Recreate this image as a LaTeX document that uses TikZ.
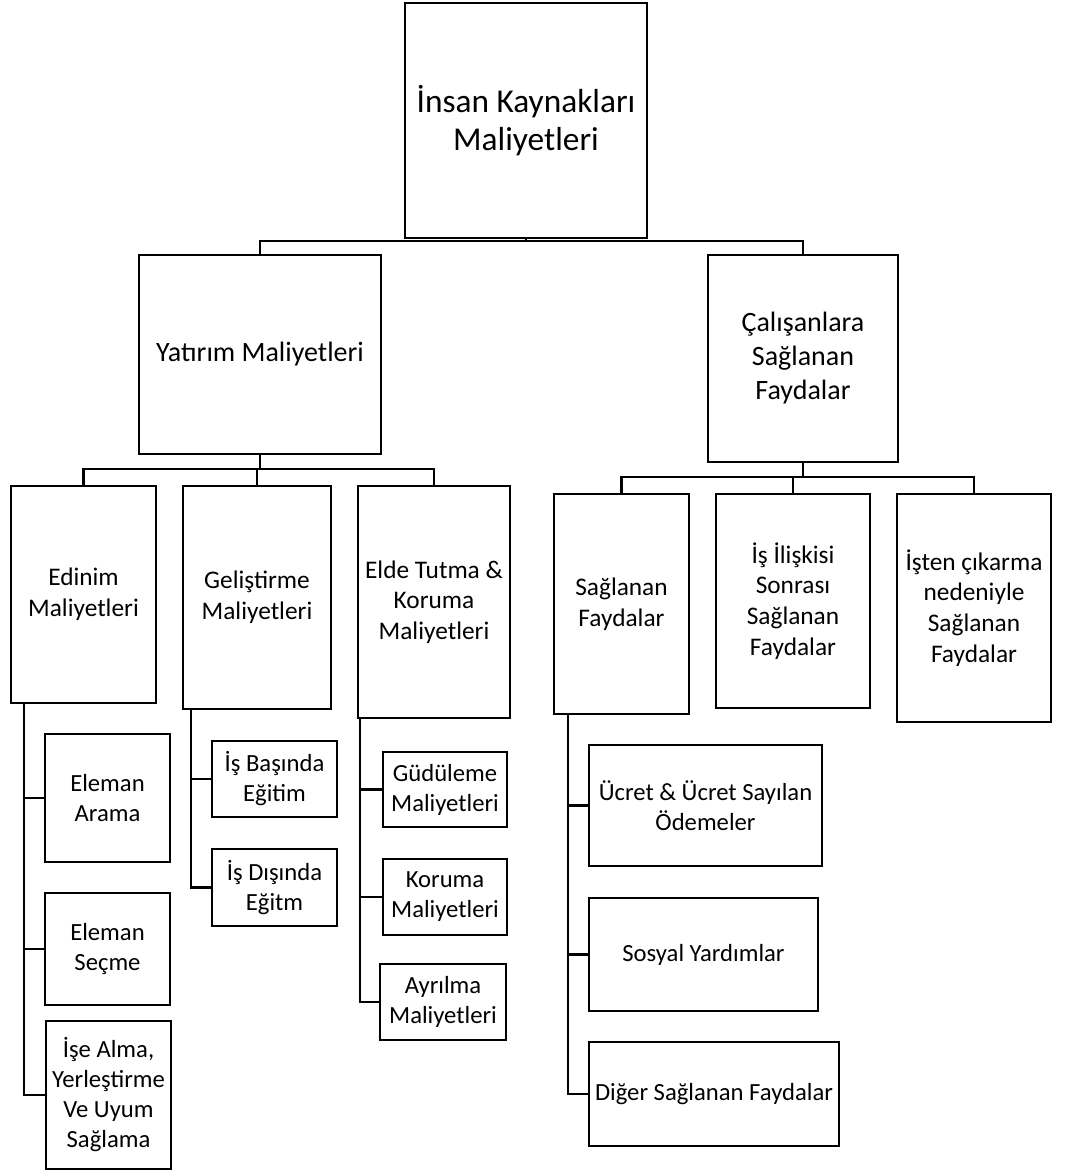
\documentclass[tikz,border=0pt]{standalone}
\usepackage{fontspec}
\setmainfont{Carlito}
\begin{document}
\begin{tikzpicture}[x=0.75pt,y=-0.75pt,
  box/.style={draw=black,line width=2pt,rectangle,align=center,inner sep=2pt},
  wh/.style 2 args={minimum width=#1*0.75pt,minimum height=#2*0.75pt},
  lvlA/.style={font=\fontsize{25}{29}\selectfont},
  lvlB/.style={font=\fontsize{21}{25.5}\selectfont},
  lvlC/.style={font=\fontsize{19}{23}\selectfont},
  leaf/.style={font=\fontsize{18.5}{22.5}\selectfont},
  link/.style={draw=black,line width=1.6pt}]
\useasboundingbox (0,0) rectangle (1067,1171);
\fill[white] (0,0) rectangle (1067,1171);

% root
\node[box,lvlA,wh={242}{235}] (top) at (526,120.5) {İnsan Kaynakları\\Maliyetleri};

% second level
\node[box,lvlB,wh={242}{199}] (yat) at (260,354.5) {Yatırım Maliyetleri};
\node[box,lvlB,wh={190}{207}] (cal) at (803,358.5) {Çalışanlara\\Sağlanan\\Faydalar};

% third level
\node[box,lvlC,wh={145}{217}] (edi) at (83.5,594.5) {Edinim\\Maliyetleri};
\node[box,lvlC,wh={148}{223}] (gel) at (257,597.5) {Geliştirme\\Maliyetleri};
\node[box,lvlC,wh={152}{232}] (eld) at (434,602) {Elde Tutma \&\\Koruma\\Maliyetleri};
\node[box,lvlC,wh={135}{220}] (sag) at (621.5,604) {Sağlanan\\Faydalar};
\node[box,lvlC,wh={154}{214}] (isi) at (793,601) {İş İlişkisi\\Sonrası\\Sağlanan\\Faydalar};
\node[box,lvlC,wh={154}{228}] (ist) at (974,608) {İşten çıkarma\\nedeniyle\\Sağlanan\\Faydalar};

% leaves
\node[box,leaf,wh={125}{128}] (ea) at (107.5,798) {Eleman\\Arama};
\node[box,leaf,wh={125}{112}] (es) at (107.5,949) {Eleman\\Seçme};
\node[box,leaf,wh={125}{148}] (ia) at (108.5,1095) {İşe Alma,\\Yerleştirme\\Ve Uyum\\Sağlama};
\node[box,leaf,wh={125}{76}] (ib) at (274.5,779) {İş Başında\\Eğitim};
\node[box,leaf,wh={125}{77}] (id) at (274.5,887.5) {İş Dışında\\Eğitm};
\node[box,leaf,wh={124}{75}] (gu) at (445,789.5) {Güdüleme\\Maliyetleri};
\node[box,leaf,wh={124}{76}] (ko) at (445,897) {Koruma\\Maliyetleri};
\node[box,leaf,wh={126}{76}] (ay) at (443,1002) {Ayrılma\\Maliyetleri};
\node[box,leaf,wh={233}{121}] (uc) at (705.5,805.5) {Ücret \& Ücret Sayılan\\Ödemeler};
\node[box,leaf,wh={229}{113}] (so) at (703.5,954.5) {Sosyal Yardımlar};
\node[box,leaf,wh={250}{104}] (di) at (714,1094) {Diğer Sağlanan Faydalar};

% branching points
\coordinate (b0) at (526,241);
\coordinate (b1) at (260,469);
\coordinate (b2) at (803,477);
\coordinate (r1) at (24,703);
\coordinate (r2) at (191,709);
\coordinate (r3) at (360,718);
\coordinate (r4) at (568,714);

% upper tree
\draw[link] (top.south) -- (b0);
\draw[link] (yat.north) |- (b0) -| (cal.north);
\draw[link] (yat.south) -- (b1);
\draw[link] (edi.north) |- (b1) -| (eld.north);
\draw[link] (gel.north) -- (gel.north |- b1);
\draw[link] (cal.south) -- (b2);
\draw[link] (sag.north) |- (b2) -| (ist.north);
\draw[link] (isi.north) -- (isi.north |- b2);

% side rails to the leaves
\draw[link] (r1) |- (ia.west);
\draw[link] (ea.west) -- (ea.west -| r1);
\draw[link] (es.west) -- (es.west -| r1);
\draw[link] (r2) |- (id.west);
\draw[link] (ib.west) -- (ib.west -| r2);
\draw[link] (r3) |- (ay.west);
\draw[link] (gu.west) -- (gu.west -| r3);
\draw[link] (ko.west) -- (ko.west -| r3);
\draw[link] (r4) |- (di.west);
\draw[link] (uc.west) -- (uc.west -| r4);
\draw[link] (so.west) -- (so.west -| r4);
\end{tikzpicture}
\end{document}
